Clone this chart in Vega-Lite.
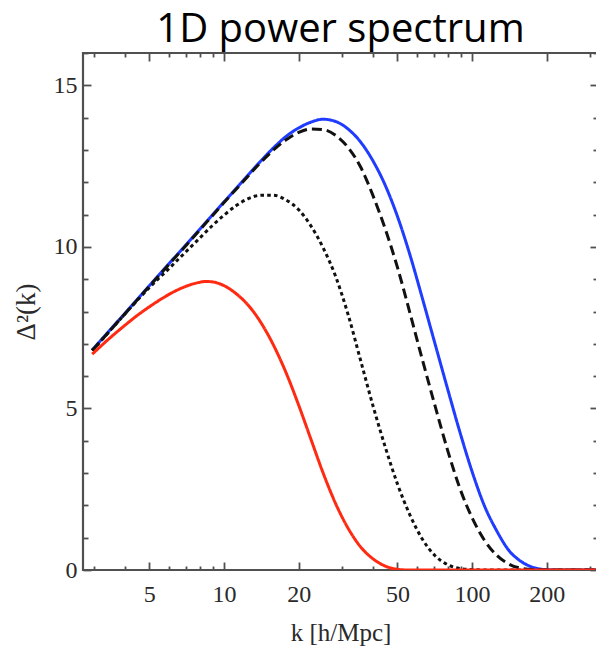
{
  "$schema": "https://vega.github.io/schema/vega-lite/v6.json",
  "width": 515,
  "height": 517,
  "autosize": "none",
  "padding": {"left": 83, "top": 53, "right": 0, "bottom": 79},
  "background": "white",
  "config": {
    "view": {"stroke": "#505050", "strokeWidth": 2.2},
    "axis": {
      "domain": false,
      "tickColor": "#505050",
      "tickWidth": 1.8,
      "grid": false,
      "labelFont": "Liberation Serif",
      "labelFontSize": 24,
      "labelColor": "#2a2a2a",
      "titleFont": "Liberation Serif",
      "titleFontSize": 25,
      "titleFontWeight": "normal",
      "titleColor": "#2a2a2a"
    }
  },
  "title": {
    "text": "1D power spectrum",
    "font": "Open Sans",
    "fontSize": 40,
    "fontWeight": "normal",
    "color": "#000000",
    "anchor": "middle",
    "baseline": "alphabetic",
    "offset": 10,
    "dy": 40
  },
  "datasets": {
    "curves": [
      {"k": 2.94, "v": 6.81, "s": "blue"},
      {"k": 3.5, "v": 7.46, "s": "blue"},
      {"k": 4, "v": 7.96, "s": "blue"},
      {"k": 5, "v": 8.8, "s": "blue"},
      {"k": 6, "v": 9.48, "s": "blue"},
      {"k": 7, "v": 10.05, "s": "blue"},
      {"k": 8.5, "v": 10.78, "s": "blue"},
      {"k": 10, "v": 11.39, "s": "blue"},
      {"k": 12, "v": 12.07, "s": "blue"},
      {"k": 14, "v": 12.64, "s": "blue"},
      {"k": 16, "v": 13.1, "s": "blue"},
      {"k": 18, "v": 13.45, "s": "blue"},
      {"k": 20, "v": 13.68, "s": "blue"},
      {"k": 22.4, "v": 13.86, "s": "blue"},
      {"k": 25.1, "v": 13.95, "s": "blue"},
      {"k": 28.2, "v": 13.88, "s": "blue"},
      {"k": 31.6, "v": 13.65, "s": "blue"},
      {"k": 35.5, "v": 13.25, "s": "blue"},
      {"k": 39.8, "v": 12.67, "s": "blue"},
      {"k": 44.7, "v": 11.9, "s": "blue"},
      {"k": 50.1, "v": 10.93, "s": "blue"},
      {"k": 56.2, "v": 9.75, "s": "blue"},
      {"k": 63.1, "v": 8.4, "s": "blue"},
      {"k": 70.8, "v": 7.02, "s": "blue"},
      {"k": 79.4, "v": 5.65, "s": "blue"},
      {"k": 89.1, "v": 4.3, "s": "blue"},
      {"k": 100, "v": 3.05, "s": "blue"},
      {"k": 112, "v": 2.0, "s": "blue"},
      {"k": 126, "v": 1.2, "s": "blue"},
      {"k": 141, "v": 0.6, "s": "blue"},
      {"k": 158, "v": 0.26, "s": "blue"},
      {"k": 178, "v": 0.07, "s": "blue"},
      {"k": 200, "v": 0.01, "s": "blue"},
      {"k": 224, "v": 0, "s": "blue"},
      {"k": 330, "v": 0, "s": "blue"},

      {"k": 2.94, "v": 6.79, "s": "dashed"},
      {"k": 3.5, "v": 7.44, "s": "dashed"},
      {"k": 4, "v": 7.94, "s": "dashed"},
      {"k": 5, "v": 8.78, "s": "dashed"},
      {"k": 6, "v": 9.46, "s": "dashed"},
      {"k": 7, "v": 10.03, "s": "dashed"},
      {"k": 8.5, "v": 10.76, "s": "dashed"},
      {"k": 10, "v": 11.37, "s": "dashed"},
      {"k": 12, "v": 12.04, "s": "dashed"},
      {"k": 14, "v": 12.6, "s": "dashed"},
      {"k": 16, "v": 13.03, "s": "dashed"},
      {"k": 18, "v": 13.34, "s": "dashed"},
      {"k": 20, "v": 13.54, "s": "dashed"},
      {"k": 22.4, "v": 13.65, "s": "dashed"},
      {"k": 25.1, "v": 13.63, "s": "dashed"},
      {"k": 28.2, "v": 13.45, "s": "dashed"},
      {"k": 31.6, "v": 13.08, "s": "dashed"},
      {"k": 35.5, "v": 12.48, "s": "dashed"},
      {"k": 39.8, "v": 11.6, "s": "dashed"},
      {"k": 44.7, "v": 10.55, "s": "dashed"},
      {"k": 50.1, "v": 9.35, "s": "dashed"},
      {"k": 56.2, "v": 7.95, "s": "dashed"},
      {"k": 63.1, "v": 6.5, "s": "dashed"},
      {"k": 70.8, "v": 5.1, "s": "dashed"},
      {"k": 79.4, "v": 3.75, "s": "dashed"},
      {"k": 89.1, "v": 2.55, "s": "dashed"},
      {"k": 100, "v": 1.62, "s": "dashed"},
      {"k": 112, "v": 0.93, "s": "dashed"},
      {"k": 126, "v": 0.45, "s": "dashed"},
      {"k": 141, "v": 0.18, "s": "dashed"},
      {"k": 158, "v": 0.05, "s": "dashed"},
      {"k": 178, "v": 0.01, "s": "dashed"},
      {"k": 200, "v": 0, "s": "dashed"},
      {"k": 330, "v": 0, "s": "dashed"},

      {"k": 2.94, "v": 6.79, "s": "dotted"},
      {"k": 3.5, "v": 7.44, "s": "dotted"},
      {"k": 4, "v": 7.94, "s": "dotted"},
      {"k": 5, "v": 8.74, "s": "dotted"},
      {"k": 6, "v": 9.33, "s": "dotted"},
      {"k": 7, "v": 9.84, "s": "dotted"},
      {"k": 8, "v": 10.28, "s": "dotted"},
      {"k": 9, "v": 10.67, "s": "dotted"},
      {"k": 10, "v": 10.98, "s": "dotted"},
      {"k": 11.2, "v": 11.28, "s": "dotted"},
      {"k": 12.6, "v": 11.5, "s": "dotted"},
      {"k": 14.1, "v": 11.6, "s": "dotted"},
      {"k": 15.8, "v": 11.6, "s": "dotted"},
      {"k": 17.8, "v": 11.45, "s": "dotted"},
      {"k": 20, "v": 11.15, "s": "dotted"},
      {"k": 22.4, "v": 10.65, "s": "dotted"},
      {"k": 25.1, "v": 9.97, "s": "dotted"},
      {"k": 28.2, "v": 9.08, "s": "dotted"},
      {"k": 31.6, "v": 7.92, "s": "dotted"},
      {"k": 35.5, "v": 6.5, "s": "dotted"},
      {"k": 39.8, "v": 5.1, "s": "dotted"},
      {"k": 44.7, "v": 3.8, "s": "dotted"},
      {"k": 50.1, "v": 2.65, "s": "dotted"},
      {"k": 56.2, "v": 1.7, "s": "dotted"},
      {"k": 63.1, "v": 0.95, "s": "dotted"},
      {"k": 70.8, "v": 0.45, "s": "dotted"},
      {"k": 79.4, "v": 0.17, "s": "dotted"},
      {"k": 89.1, "v": 0.05, "s": "dotted"},
      {"k": 100, "v": 0.01, "s": "dotted"},
      {"k": 112, "v": 0, "s": "dotted"},
      {"k": 330, "v": 0, "s": "dotted"},

      {"k": 2.94, "v": 6.68, "s": "red"},
      {"k": 3.55, "v": 7.25, "s": "red"},
      {"k": 3.98, "v": 7.57, "s": "red"},
      {"k": 4.47, "v": 7.88, "s": "red"},
      {"k": 5.01, "v": 8.15, "s": "red"},
      {"k": 5.62, "v": 8.4, "s": "red"},
      {"k": 6.31, "v": 8.62, "s": "red"},
      {"k": 7.08, "v": 8.79, "s": "red"},
      {"k": 7.94, "v": 8.9, "s": "red"},
      {"k": 8.41, "v": 8.93, "s": "red"},
      {"k": 8.91, "v": 8.92, "s": "red"},
      {"k": 10, "v": 8.8, "s": "red"},
      {"k": 11.2, "v": 8.55, "s": "red"},
      {"k": 12.6, "v": 8.17, "s": "red"},
      {"k": 14.1, "v": 7.65, "s": "red"},
      {"k": 15.8, "v": 6.97, "s": "red"},
      {"k": 17.8, "v": 6.1, "s": "red"},
      {"k": 20, "v": 5.1, "s": "red"},
      {"k": 22.4, "v": 4.05, "s": "red"},
      {"k": 25.1, "v": 3.0, "s": "red"},
      {"k": 28.2, "v": 2.05, "s": "red"},
      {"k": 31.6, "v": 1.3, "s": "red"},
      {"k": 35.5, "v": 0.72, "s": "red"},
      {"k": 39.8, "v": 0.35, "s": "red"},
      {"k": 44.7, "v": 0.12, "s": "red"},
      {"k": 50.1, "v": 0.02, "s": "red"},
      {"k": 56.2, "v": 0, "s": "red"},
      {"k": 330, "v": 0, "s": "red"}
    ]
  },
  "data": {"name": "curves"},
  "layer": [
    {
      "mark": {"type": "line", "clip": true, "strokeWidth": 3, "strokeCap": "butt", "interpolate": "monotone"},
      "encoding": {
        "x": {
          "field": "k", "type": "quantitative",
          "scale": {"type": "log", "domain": [2.7, 322], "nice": false},
          "axis": {
            "orient": "bottom",
            "title": "k [h/Mpc]",
            "titlePadding": 14,
            "ticks": false,
            "values": [5, 10, 20, 50, 100, 200],
            "labelPadding": 12,
            "labelFlush": false,
            "labelOverlap": false
          }
        },
        "y": {
          "field": "v", "type": "quantitative",
          "scale": {"domain": [0, 16], "nice": false, "zero": true},
          "axis": {
            "orient": "left",
            "title": "Δ²(k)",
            "titleFontSize": 27,
            "titlePadding": 13,
            "ticks": false,
            "values": [0, 5, 10, 15],
            "labelPadding": 6,
            "labelFlush": false,
            "labelOverlap": false
          }
        },
        "detail": {"field": "s"},
        "color": {
          "field": "s", "type": "nominal", "legend": null,
          "scale": {"domain": ["red", "dotted", "dashed", "blue"], "range": ["#ff2a12", "#111111", "#111111", "#1f3cff"]}
        },
        "strokeDash": {
          "field": "s", "type": "nominal", "legend": null,
          "scale": {"domain": ["red", "dotted", "dashed", "blue"], "range": [[1, 0], [3.6, 3.2], [10, 5], [1, 0]]}
        },
        "strokeWidth": {
          "field": "s", "type": "nominal", "legend": null,
          "scale": {"domain": ["red", "dotted", "dashed", "blue"], "range": [3, 3.9, 3.4, 3]}
        },
        "order": {"field": "k", "type": "quantitative"}
      }
    },
    {
      "mark": {"type": "line", "opacity": 0},
      "encoding": {
        "x": {
          "field": "k", "type": "quantitative",
          "scale": {"type": "log", "domain": [2.7, 322], "nice": false},
          "axis": {"orient": "top", "offset": -517, "title": null, "labels": false, "tickSize": 8, "values": [5, 10, 20, 50, 100, 200]}
        },
        "y": {
          "field": "v", "type": "quantitative",
          "scale": {"domain": [0, 16], "nice": false},
          "axis": {"orient": "right", "offset": -515, "title": null, "labels": false, "tickSize": 8, "values": [0, 5, 10, 15]}
        },
        "detail": {"field": "s"}
      }
    },
    {
      "mark": {"type": "line", "opacity": 0},
      "encoding": {
        "x": {
          "field": "k", "type": "quantitative",
          "scale": {"type": "log", "domain": [2.7, 322], "nice": false},
          "axis": {"orient": "top", "offset": -517, "title": null, "labels": false, "tickSize": 4, "values": [3, 4, 6, 7, 8, 9, 30, 40, 60, 70, 80, 90, 300]}
        },
        "y": {
          "field": "v", "type": "quantitative",
          "scale": {"domain": [0, 16], "nice": false},
          "axis": {"orient": "right", "offset": -515, "title": null, "labels": false, "tickSize": 5, "values": [1, 2, 3, 4, 6, 7, 8, 9, 11, 12, 13, 14, 16]}
        },
        "detail": {"field": "s"}
      }
    },
    {
      "mark": {"type": "line", "opacity": 0},
      "encoding": {
        "x": {
          "field": "k", "type": "quantitative",
          "scale": {"type": "log", "domain": [2.7, 322], "nice": false},
          "axis": {"orient": "bottom", "offset": -517, "title": null, "labels": false, "tickSize": 8, "values": [5, 10, 20, 50, 100, 200]}
        },
        "y": {
          "field": "v", "type": "quantitative",
          "scale": {"domain": [0, 16], "nice": false},
          "axis": {"orient": "left", "offset": -515, "title": null, "labels": false, "tickSize": 8, "values": [0, 5, 10, 15]}
        },
        "detail": {"field": "s"}
      }
    },
    {
      "mark": {"type": "line", "opacity": 0},
      "encoding": {
        "x": {
          "field": "k", "type": "quantitative",
          "scale": {"type": "log", "domain": [2.7, 322], "nice": false},
          "axis": {"orient": "bottom", "offset": -517, "title": null, "labels": false, "tickSize": 4, "values": [3, 4, 6, 7, 8, 9, 30, 40, 60, 70, 80, 90, 300]}
        },
        "y": {
          "field": "v", "type": "quantitative",
          "scale": {"domain": [0, 16], "nice": false},
          "axis": {"orient": "left", "offset": -515, "title": null, "labels": false, "tickSize": 5, "values": [1, 2, 3, 4, 6, 7, 8, 9, 11, 12, 13, 14, 16]}
        },
        "detail": {"field": "s"}
      }
    }
  ],
  "resolve": {"axis": {"x": "independent", "y": "independent"}}
}
